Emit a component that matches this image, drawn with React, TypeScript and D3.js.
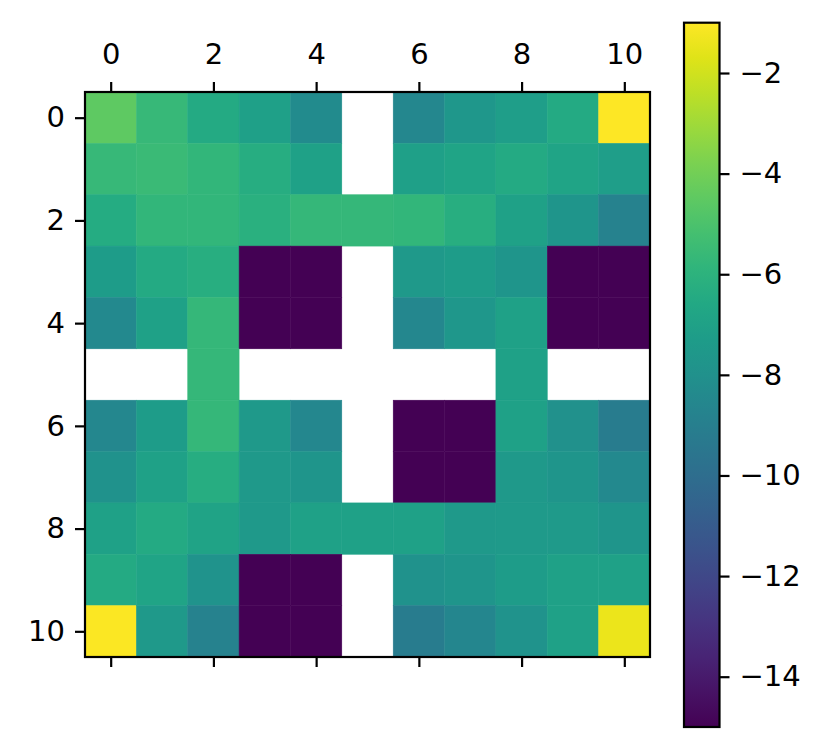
import React, { useEffect, useRef } from 'react';
import * as d3 from 'd3';

// 11x11 matrix, NaN = masked (white)
const N = NaN;
const row0 = [-4.5, -5.6, -6.5, -7.1, -8.3, N, -8.5, -7.6, -7.2, -6.5, -1.0];
const row1 = [-5.6, -5.5, -5.8, -6.3, -7.0, N, -7.1, -6.8, -6.5, -6.8, -7.2];
const row2 = [-6.4, -5.8, -5.8, -6.1, -5.7, -5.7, -5.8, -6.2, -7.0, -7.7, -8.8];
const row3 = [-7.3, -6.5, -6.2, -15, -15, N, -7.5, -7.3, -7.7, -15, -15];
const row4 = [-8.4, -7.0, -5.7, -15, -15, N, -8.5, -7.6, -7.0, -15, -15];
const row5 = [N, N, -5.7, N, N, N, N, N, -7.0, N, N];
const row6 = [-8.5, -7.3, -5.7, -7.5, -8.5, N, -15, -15, -7.0, -8.0, -9.2];
const row7 = [-7.9, -7.0, -6.3, -7.5, -7.7, N, -15, -15, -7.5, -7.7, -8.4];
const row8 = [-7.0, -6.5, -6.9, -7.5, -7.0, -7.0, -7.0, -7.5, -7.4, -7.4, -7.7];
const row9 = [-6.5, -6.8, -7.8, -15, -15, N, -7.9, -7.7, -7.3, -7.0, -7.0];
const row10 = [-1.1, -7.5, -8.8, -15, -15, N, -9.2, -8.6, -7.8, -7.0, -1.4];
const rows = [row0, row1, row2, row3, row4, row5, row6, row7, row8, row9, row10];

const axisTicks = [0, 2, 4, 6, 8, 10];
const colorbarTicks = [-2, -4, -6, -8, -10, -12, -14];
const colorDomain: [number, number] = [-15, -1];

const App = () => {
  const ref = useRef<SVGSVGElement>(null);

  useEffect(() => {
    const svg = d3.select(ref.current);
    svg.selectAll('*').remove();

    const left = 85;
    const right = 650;
    const top = 92;
    const bottom = 657;
    const font = 'DejaVu Sans, sans-serif';
    const fs = 29;
    const lw = 2.2;

    const x = d3.scaleLinear().domain([-0.5, 10.5]).range([left, right]);
    const y = d3.scaleLinear().domain([-0.5, 10.5]).range([top, bottom]);
    const color = d3.scaleSequential(d3.interpolateViridis).domain(colorDomain);

    const cells = rows.flatMap((r, i) => r.map((v, j) => ({ i, j, v })));

    svg
      .append('g')
      .selectAll('rect')
      .data(cells.filter((d) => !isNaN(d.v)))
      .enter()
      .append('rect')
      .attr('x', (d) => x(d.j - 0.5))
      .attr('y', (d) => y(d.i - 0.5))
      .attr('width', x(1) - x(0))
      .attr('height', y(1) - y(0))
      .attr('fill', (d) => color(d.v))
      .attr('stroke', (d) => color(d.v))
      .attr('stroke-width', 0.5);

    const styleAxis = (g: any) => {
      g.select('.domain').remove();
      g.selectAll('line').attr('stroke', '#000').attr('stroke-width', lw);
      g.selectAll('text').attr('font-family', font).attr('font-size', fs).attr('fill', '#000');
    };

    svg
      .append('g')
      .attr('transform', `translate(0,${top})`)
      .call(d3.axisTop(x).tickValues(axisTicks).tickSize(10).tickPadding(18).tickFormat(d3.format('d')))
      .call(styleAxis);

    svg
      .append('g')
      .attr('transform', `translate(0,${bottom})`)
      .call(d3.axisBottom(x).tickValues(axisTicks).tickSize(10).tickFormat(() => ''))
      .call(styleAxis);

    svg
      .append('g')
      .attr('transform', `translate(${left},0)`)
      .call(d3.axisLeft(y).tickValues(axisTicks).tickSize(10).tickPadding(10).tickFormat(d3.format('d')))
      .call(styleAxis);

    svg
      .append('rect')
      .attr('x', left)
      .attr('y', top)
      .attr('width', right - left)
      .attr('height', bottom - top)
      .attr('fill', 'none')
      .attr('stroke', '#000')
      .attr('stroke-width', lw);

    // colorbar
    const cbLeft = 684;
    const cbRight = 719.5;
    const cbTop = 22.7;
    const cbBottom = 727;
    const cy = d3.scaleLinear().domain(colorDomain).range([cbBottom, cbTop]);

    const grad = svg
      .append('defs')
      .append('linearGradient')
      .attr('id', 'viridis-grad')
      .attr('x1', 0)
      .attr('y1', 1)
      .attr('x2', 0)
      .attr('y2', 0);
    d3.range(0, 1.0001, 0.05).forEach((t) => {
      grad.append('stop').attr('offset', t).attr('stop-color', d3.interpolateViridis(t));
    });

    svg
      .append('rect')
      .attr('x', cbLeft)
      .attr('y', cbTop)
      .attr('width', cbRight - cbLeft)
      .attr('height', cbBottom - cbTop)
      .attr('fill', 'url(#viridis-grad)')
      .attr('stroke', '#000')
      .attr('stroke-width', lw);

    svg
      .append('g')
      .attr('transform', `translate(${cbRight},0)`)
      .call(d3.axisRight(cy).tickValues(colorbarTicks).tickSize(10).tickPadding(10))
      .call(styleAxis);
  }, []);

  return (
    <svg
      ref={ref}
      width={831}
      height={750}
      style={{ position: 'absolute', left: 0, top: 0, background: '#fff' }}
    />
  );
};

export default App;
